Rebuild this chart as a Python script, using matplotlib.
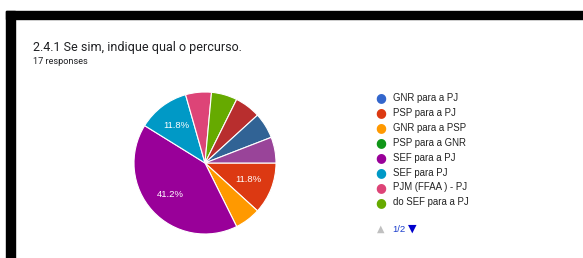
import matplotlib
matplotlib.use("Agg")
import matplotlib.pyplot as plt
from matplotlib.patches import Rectangle

plt.rcParams['font.family'] = ['Roboto', 'DejaVu Sans']

# Données
titre = "2.4.1 Se sim, indique qual o percurso."
n_reponses = 17
legende = ["GNR para a PJ", "PSP para a PJ", "GNR para a PSP", "PSP para a GNR",
           "SEF para a PJ", "SEF para PJ", "PJM (FFAA ) - PJ", "do SEF para a PJ"]
couleurs_legende = ["#3366cc", "#dc3912", "#ff9900", "#109618",
                    "#990099", "#0099c6", "#dd4477", "#66aa00"]

# Parts du camembert (dans l'ordre d'affichage, sens horaire depuis 3h)
parts = [2, 1, 7, 2, 1, 1, 1, 1, 1]
couleurs_parts = ["#dc3912", "#ff9900", "#990099", "#0099c6", "#dd4477",
                  "#66aa00", "#b82e2e", "#316395", "#994499"]

W, H = 583, 258
fig = plt.figure(figsize=(W / 100, H / 100), dpi=100)
fig.patch.set_facecolor("white")

# Cadre noir (haut et gauche)
fig.patches.append(Rectangle((6 / W, 1 - 19 / H), 1, 8 / H, transform=fig.transFigure,
                             color="black", zorder=0))
fig.patches.append(Rectangle((6 / W, 0), 9 / W, 1 - 11 / H, transform=fig.transFigure,
                             color="black", zorder=0))

# Titre
fig.text(33 / W, 1 - 47 / H, titre, fontsize=9, color="#202124", va="center")
fig.text(33 / W, 1 - 62 / H, str(n_reponses) + " responses", fontsize=6.6,
         color="#202124", va="center")

# Camembert
cx, cy, r = 205, 163, 71
ax = fig.add_axes([(cx - r) / W, (H - cy - r) / H, 2 * r / W, 2 * r / H])


def pct(p):
    return "%.1f%%" % p if p > 10 else ""


wedges, textes, autotextes = ax.pie(parts, colors=couleurs_parts, startangle=0,
                                    counterclock=False, autopct=pct, pctdistance=0.66,
                                    wedgeprops=dict(edgecolor="white", linewidth=0.8))
for t in autotextes:
    t.set_color("white")
    t.set_fontsize(6.8)
    t.set_family("Liberation Sans")
ax.set_xlim(-1, 1)
ax.set_ylim(-1, 1)
ax.set_aspect("equal")

# Légende
y0, pas = 98, 14.9
for i in range(len(legende)):
    y = y0 + i * pas
    fig.text(381 / W, 1 - y / H, "\u25CF", color=couleurs_legende[i], fontsize=9,
             ha="center", va="center", family="DejaVu Sans")
    fig.text(393 / W, 1 - y / H, legende[i], fontsize=6.9, color="#222222",
             va="center", family="Liberation Sans")

# Pagination
fig.text(381 / W, 1 - 229 / H, "\u25B2", color="#c0c0c0", fontsize=7,
         ha="center", va="center", family="DejaVu Sans")
fig.text(392 / W, 1 - 229 / H, "1/2", color="#1a3dcc", fontsize=6.8, va="center",
         family="Liberation Sans")
fig.text(412 / W, 1 - 229 / H, "\u25BC", color="#0000cc", fontsize=8,
         ha="center", va="center", family="DejaVu Sans")

fig.savefig("out.png", dpi=100)
